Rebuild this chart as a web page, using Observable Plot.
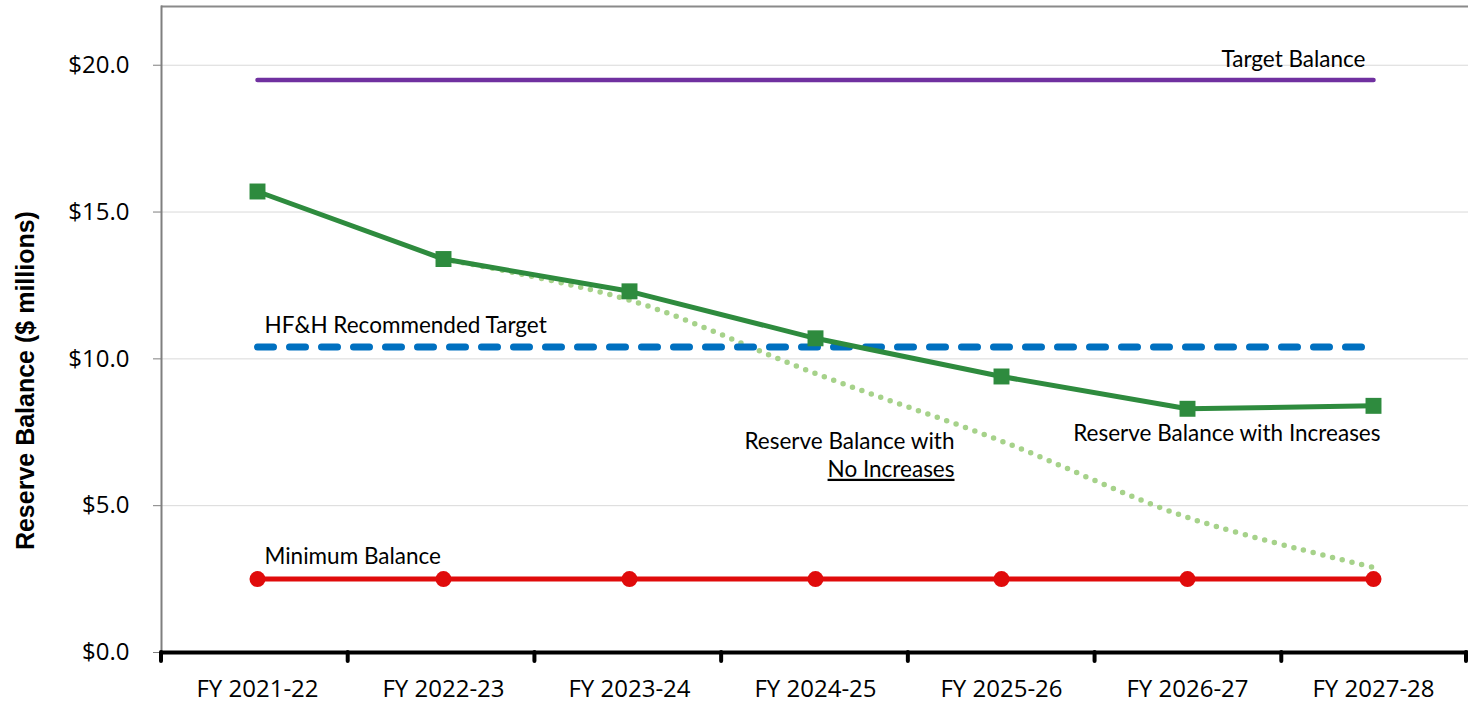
<!DOCTYPE html>
<html>
<head>
<meta charset="utf-8">
<script src="https://cdn.jsdelivr.net/npm/d3@7"></script>
<script src="https://cdn.jsdelivr.net/npm/@observablehq/plot@0.6"></script>
<style>
  html, body { margin: 0; padding: 0; background: #fff; overflow: hidden; }
  #chart svg { display: block; }
</style>
</head>
<body>
<div id="chart"></div>
<script>
// ---- Data ----
const years = ["FY 2021-22", "FY 2022-23", "FY 2023-24", "FY 2024-25", "FY 2025-26", "FY 2026-27", "FY 2027-28"];
const withIncreases = [15.7, 13.4, 12.3, 10.7, 9.4, 8.3, 8.4];
const noIncreases = [null, 13.4, 12.0, 9.5, 7.2, 4.6, 2.9];
const targetBalance = [19.5, 19.5, 19.5, 19.5, 19.5, 19.5, 19.5];
const hfhTarget = [10.4, 10.4, 10.4, 10.4, 10.4, 10.4, 10.4];
const minimumBalance = [2.5, 2.5, 2.5, 2.5, 2.5, 2.5, 2.5];
const yTicks = [0, 5, 10, 15, 20];
const yTitle = "Reserve Balance ($ millions)";

const rows = (vals) => years.map((year, i) => ({year, v: vals[i]})).filter(d => d.v != null);

const green = "#2e8b3e";
const annFont = {fontSize: 22.5, fontFamily: "Lato", fill: "#000"};
const ann = (year, v, text, textAnchor, dx) =>
  Plot.text([{year, v, text}], {x: "year", y: "v", text: "text", textAnchor, dx, ...annFont});

const chart = Plot.plot({
  width: 1468,
  height: 703,
  marginLeft: 161,
  marginRight: 0,
  marginTop: 6,
  marginBottom: 51,
  x: {type: "band", domain: years, padding: 0},
  y: {domain: [0, 22]},
  marks: [
    Plot.gridY(yTicks.filter(d => d > 0), {stroke: "#d9d9d9", strokeOpacity: 1, strokeWidth: 1}),
    Plot.ruleY([22], {stroke: "#8a8a8a", strokeWidth: 2}),
    Plot.frame({anchor: "left", stroke: "#7f7f7f", strokeWidth: 2}),
    Plot.axisY({ticks: yTicks, tickFormat: d => "$" + d.toFixed(1), tickSize: 8, tickPadding: 24,
      fontSize: 24, fontFamily: "Open Sans", stroke: "#7f7f7f", fill: "#000", label: null}),
    Plot.text([yTitle], {frameAnchor: "left", y: [9.26], text: d => d, rotate: -90, dx: -136,
      textAnchor: "middle", lineAnchor: "middle", fontSize: 25, fontWeight: "bold",
      fontFamily: "Liberation Sans", fill: "#000"}),
    Plot.axisX({tickSize: 0, tickPadding: 27, fontSize: 24, fontFamily: "Open Sans", fill: "#000", label: null}),
    Plot.lineY(rows(minimumBalance), {x: "year", y: "v", stroke: "#e00b0b", strokeWidth: 5}),
    Plot.dot(rows(minimumBalance), {x: "year", y: "v", r: 8, fill: "#e00b0b", symbol: "circle"}),
    Plot.lineY(rows(targetBalance), {x: "year", y: "v", stroke: "#7030a0", strokeWidth: 4.5, strokeLinecap: "round"}),
    Plot.lineY(rows(noIncreases), {x: "year", y: "v", stroke: "#a6d28a", strokeWidth: 5.5, strokeDasharray: "0 10", strokeLinecap: "round", curve: "catmull-rom"}),
    Plot.lineY(rows(hfhTarget), {x: "year", y: "v", stroke: "#0070c0", strokeWidth: 7, strokeDasharray: "16 16", strokeLinecap: "round"}),
    Plot.lineY(rows(withIncreases), {x: "year", y: "v", stroke: green, strokeWidth: 5}),
    Plot.dot(rows(withIncreases), {x: "year", y: "v", r: 9, fill: green, symbol: "square"}),
    Plot.ruleY([0], {stroke: "#000", strokeWidth: 4}),
    ann("FY 2027-28", 20.17, "Target Balance", "end", -8),
    ann("FY 2021-22", 11.14, "HF&H Recommended Target", "start", 7),
    ann("FY 2021-22", 3.27, "Minimum Balance", "start", 7),
    ann("FY 2027-28", 7.46, "Reserve Balance with Increases", "end", 7),
    ann("FY 2025-26", 7.19, "Reserve Balance with", "end", -47),
    ann("FY 2025-26", 6.23, "No Increases", "end", -47)
  ]
});

document.getElementById("chart").appendChild(chart);

const svg = d3.select(chart);
svg.selectAll("text").filter(function() { return this.textContent === "No Increases"; })
  .style("text-decoration", "underline");

// band boundary ticks on the bottom axis
const xs = chart.scale("x");
const ys = chart.scale("y");
const y0 = ys.apply(0);
const step = (xs.range[1] - xs.range[0]) / years.length;
const bounds = d3.range(years.length + 1).map(i => xs.range[0] + i * step);
svg.append("g").selectAll("line").data(bounds).join("line")
  .attr("x1", d => Math.min(d, xs.range[1] - 2)).attr("x2", d => Math.min(d, xs.range[1] - 2))
  .attr("y1", y0).attr("y2", y0 + 9)
  .attr("stroke", "#000").attr("stroke-width", 4).attr("stroke-linecap", "round");
</script>
</body>
</html>
